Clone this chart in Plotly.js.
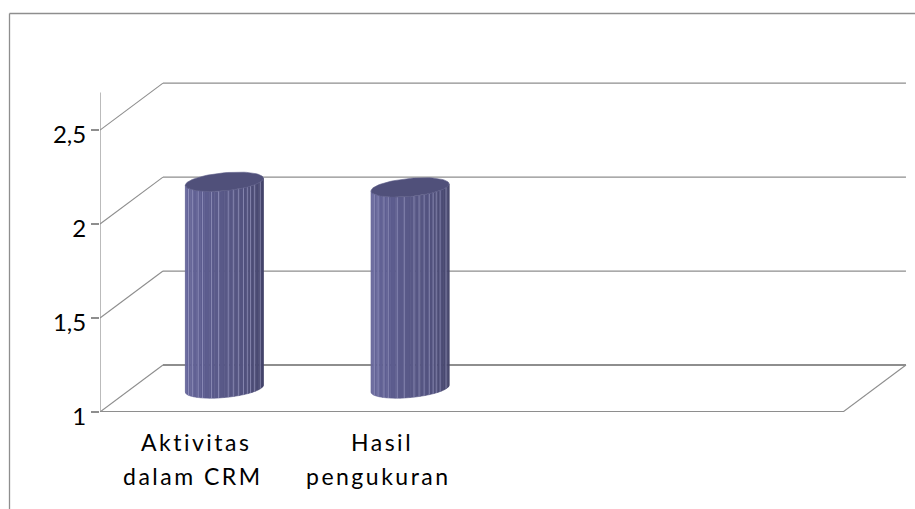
<!DOCTYPE html>
<html><head><meta charset="utf-8">
<script src="https://cdn.plot.ly/plotly-3.0.1.min.js"></script>
<style>html,body{margin:0;padding:0;background:#fff}
#c{width:915px;height:509px}
.annotation-text{letter-spacing:2.5px}
</style></head><body><div id="c"></div>
<script>
// chart values
const labelLine1 = ["Aktivitas", "Hasil"];
const labelLine2 = ["dalam CRM", "pengukuran"];
const values = [2.1, 2.07];
const yTicks = [1, 1.5, 2, 2.5];
const yTickText = ["1", "1,5", "2", "2,5"];
const slotEdges = [-0.5, 0.5, 1.5, 2.5, 3.5];
// 3D look
const stripColors = ["#6a6a9c","#69699c","#67679a","#656598","#636396","#616194","#5f5f92","#5d5d90","#5c5c8e","#5b5b8c","#5a5a8a","#595988","#585886","#565684","#555582","#535380","#51517d","#4f4f7a","#4d4d77","#4b4b74","#494971","#47476e","#45456b","#434368"];
const seamFractions = [-0.92,-0.82,-0.67,-0.56,-0.33,-0.15,0.1,0.23,0.36,0.49,0.59,0.67,0.77,0.92];
const topColor = "#50507a", gridColor = "#8e8e8e", seamColor = "rgba(185,185,222,0.6)";
const depthX = 0.339, depthY = 0.25, halfW = 0.21, ellB = 0.048, ellK = 0.0186;
const yMin = 1, pxPerUnit = 187.8, pxPerCat = 185.75;

const traces = [];
function line(x, y, w){ traces.push({type:'scatter',mode:'lines',x,y,line:{color:gridColor,width:w||1},hoverinfo:'skip',showlegend:false,cliponaxis:false}); }
const x0 = slotEdges[0], xN = slotEdges[slotEdges.length-1];
// walls
yTicks.forEach(v=>{
  line([x0,x0+depthX],[v,v+depthY],1.1);
  line([x0+depthX,xN+depthX],[v+depthY,v+depthY], v===1?1.8:1.3);
});
line([xN,xN+depthX],[1,1+depthY],1.1);
line([x0,x0],[1-7/pxPerUnit,2.7],1.2);
line([x0,xN],[1,1],1.8);
slotEdges.forEach(e=>line([e,e],[1,1-7/pxPerUnit],1.2));
// cylinders
function rim(cx,cy,t){ return [cx+halfW*Math.cos(t), cy-ellB*Math.sin(t)+ellK*Math.cos(t)]; }
values.forEach((v,i)=>{
  const cx = i+depthX/2, bot = 1+depthY/2, top = v+depthY/2;
  const n = stripColors.length;
  stripColors.forEach((col,s)=>{
    const t1 = Math.PI*(1-s/n), t2 = Math.PI*(1-(s+1)/n);
    const xs=[],ys=[];
    for(let k=0;k<=4;k++){const t=t1+(t2-t1)*k/4,p=rim(cx,bot,t);xs.push(p[0]);ys.push(p[1]);}
    for(let k=4;k>=0;k--){const t=t1+(t2-t1)*k/4,p=rim(cx,top,t);xs.push(p[0]);ys.push(p[1]);}
    xs.push(xs[0]);ys.push(ys[0]);
    traces.push({type:'scatter',mode:'lines',x:xs,y:ys,fill:'toself',fillcolor:col,line:{color:col,width:0.6},hoverinfo:'skip',showlegend:false});
  });
  seamFractions.forEach(f=>{
    const t=Math.acos(f),a=rim(cx,bot,t),b=rim(cx,top,t);
    traces.push({type:'scatter',mode:'lines',x:[a[0],b[0]],y:[a[1],b[1]],line:{color:seamColor,width:0.8},hoverinfo:'skip',showlegend:false});
  });
  const ex=[],ey=[];
  for(let k=0;k<=72;k++){const p=rim(cx,top,k/72*2*Math.PI);ex.push(p[0]);ey.push(p[1]);}
  traces.push({type:'scatter',mode:'lines',x:ex,y:ey,fill:'toself',fillcolor:topColor,line:{color:'#5c5c88',width:0.6},hoverinfo:'skip',showlegend:false});
});
const anns=[];
const base={xref:'x',yref:'paper',showarrow:false,xanchor:'center',yanchor:'middle',font:{family:'Lato, sans-serif',size:23,color:'#000'}};
const yPaper=px=>(509-px-97.3)/411.7;
labelLine1.forEach((t,i)=>anns.push({...base,x:i+0.02,y:yPaper(442),text:t}));
labelLine2.forEach((t,i)=>anns.push({...base,x:i,y:yPaper(476),text:t}));
const frame={type:'line',xref:'paper',yref:'paper',line:{color:'#8e8e8e',width:1.3}};
const pl=(9.5-100)/815, pt=(411.7-13.5)/411.7, pb=(411.7-509)/411.7;
Plotly.newPlot('c',traces,{
  width:915,height:509,margin:{l:100,r:0,t:0,b:97.3,pad:0},
  paper_bgcolor:'#fff',plot_bgcolor:'#fff',showlegend:false,
  separators:',.',
  xaxis:{range:[x0,x0+815/pxPerCat],showgrid:false,zeroline:false,showline:false,ticks:'',showticklabels:false,fixedrange:true},
  yaxis:{range:[yMin,yMin+411.7/pxPerUnit],tickmode:'array',tickvals:yTicks,ticktext:yTickText,showgrid:false,zeroline:false,showline:false,ticks:'outside',ticklen:8,tickcolor:gridColor,tickwidth:1.2,ticklabelshift:5,tickfont:{family:'Lato, sans-serif',size:24,color:'#000'},fixedrange:true},
  annotations:anns,
  shapes:[{...frame,x0:pl,x1:pl,y0:pb,y1:pt},{...frame,x0:pl,x1:1,y0:pt,y1:pt}]
},{displayModeBar:false,staticPlot:true});
</script></body></html>
